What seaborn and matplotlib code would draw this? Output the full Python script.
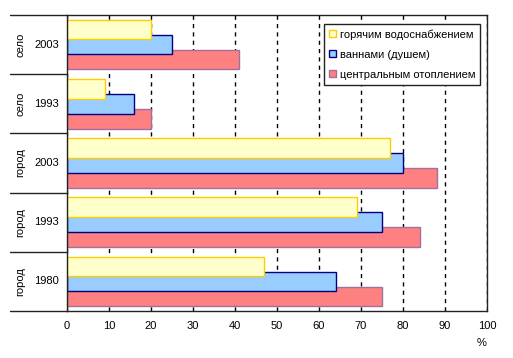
import matplotlib
matplotlib.use("Agg")
import matplotlib.pyplot as plt
import matplotlib.transforms as mtransforms
import seaborn as sns
import numpy as np

# группы сверху вниз
places = ["село", "село", "город", "город", "город"]
years = ["2003", "1993", "2003", "1993", "1980"]

series = ["горячим водоснабжением", "ваннами (душем)", "центральным отоплением"]
hot_water = [20, 9, 77, 69, 47]
baths = [25, 16, 80, 75, 64]
heating = [41, 20, 88, 84, 75]

fills = ["#FFFFCC", "#99CCFF", "#FF8080"]
edges = ["#FFCC00", "#000080", "#A0709F"]

sns.set_style("white")
plt.rcParams["font.family"] = ["Liberation Sans", "DejaVu Sans"]
plt.rcParams["font.size"] = 8
plt.rcParams["text.color"] = "black"
plt.rcParams["xtick.color"] = "black"
plt.rcParams["axes.labelcolor"] = "black"

fig = plt.figure(figsize=(5.13, 3.58), dpi=100)
ax = fig.add_axes([67 / 513, 1 - 311 / 358, 420 / 513, 296 / 358])

idx = np.arange(len(years))
offsets = [-0.254, 0.0, 0.254]
data = [hot_water, baths, heating]

# красные снизу, жёлтые поверх
for k in [2, 1, 0]:
    sns.barplot(x=data[k], y=idx + offsets[k], orient="y", native_scale=True,
                width=0.33, color=fills[k], edgecolor=edges[k], linewidth=1.0,
                saturation=1, errorbar=None, label=series[k], ax=ax)

ax.set_ylim(len(years) - 0.5, -0.5)
ax.set_xlim(0, 100)
ax.set_xticks(range(0, 101, 10))
ax.set_yticks([])
ax.set_ylabel("")
ax.set_xlabel("%", loc="right", labelpad=5)
ax.tick_params(axis="x", length=0, pad=7, labelsize=8)
ax.xaxis.grid(True, linestyle=(0, (3, 3)), color="black", linewidth=1)
ax.set_axisbelow(True)
for s in ax.spines.values():
    s.set_visible(True)
    s.set_color("#222222")
    s.set_linewidth(1)

# двухуровневые подписи оси Y
trans = mtransforms.blended_transform_factory(fig.transFigure, ax.transData)
for i in idx:
    ax.text(46.5 / 513, i, years[i], transform=trans, ha="center", va="center", fontsize=8)
    ax.text(20 / 513, i, places[i], transform=trans, ha="center", va="center",
            rotation=90, fontsize=8)
for b in np.arange(len(years) + 1) - 0.5:
    ax.plot([10 / 513, 67 / 513], [b, b], transform=trans, color="#222222",
            linewidth=1, clip_on=False)

handles, labels = ax.get_legend_handles_labels()
handles, labels = handles[::-1], labels[::-1]
leg = ax.legend(handles, labels, loc="upper right", bbox_to_anchor=(0.984, 0.969),
                borderaxespad=0, fontsize=8, handlelength=0.65, handleheight=0.65,
                handletextpad=0.35, labelspacing=0.9, borderpad=0.45,
                fancybox=False, framealpha=1, edgecolor="#222222")
leg.get_frame().set_linewidth(1)

fig.savefig("out.png", dpi=100)
